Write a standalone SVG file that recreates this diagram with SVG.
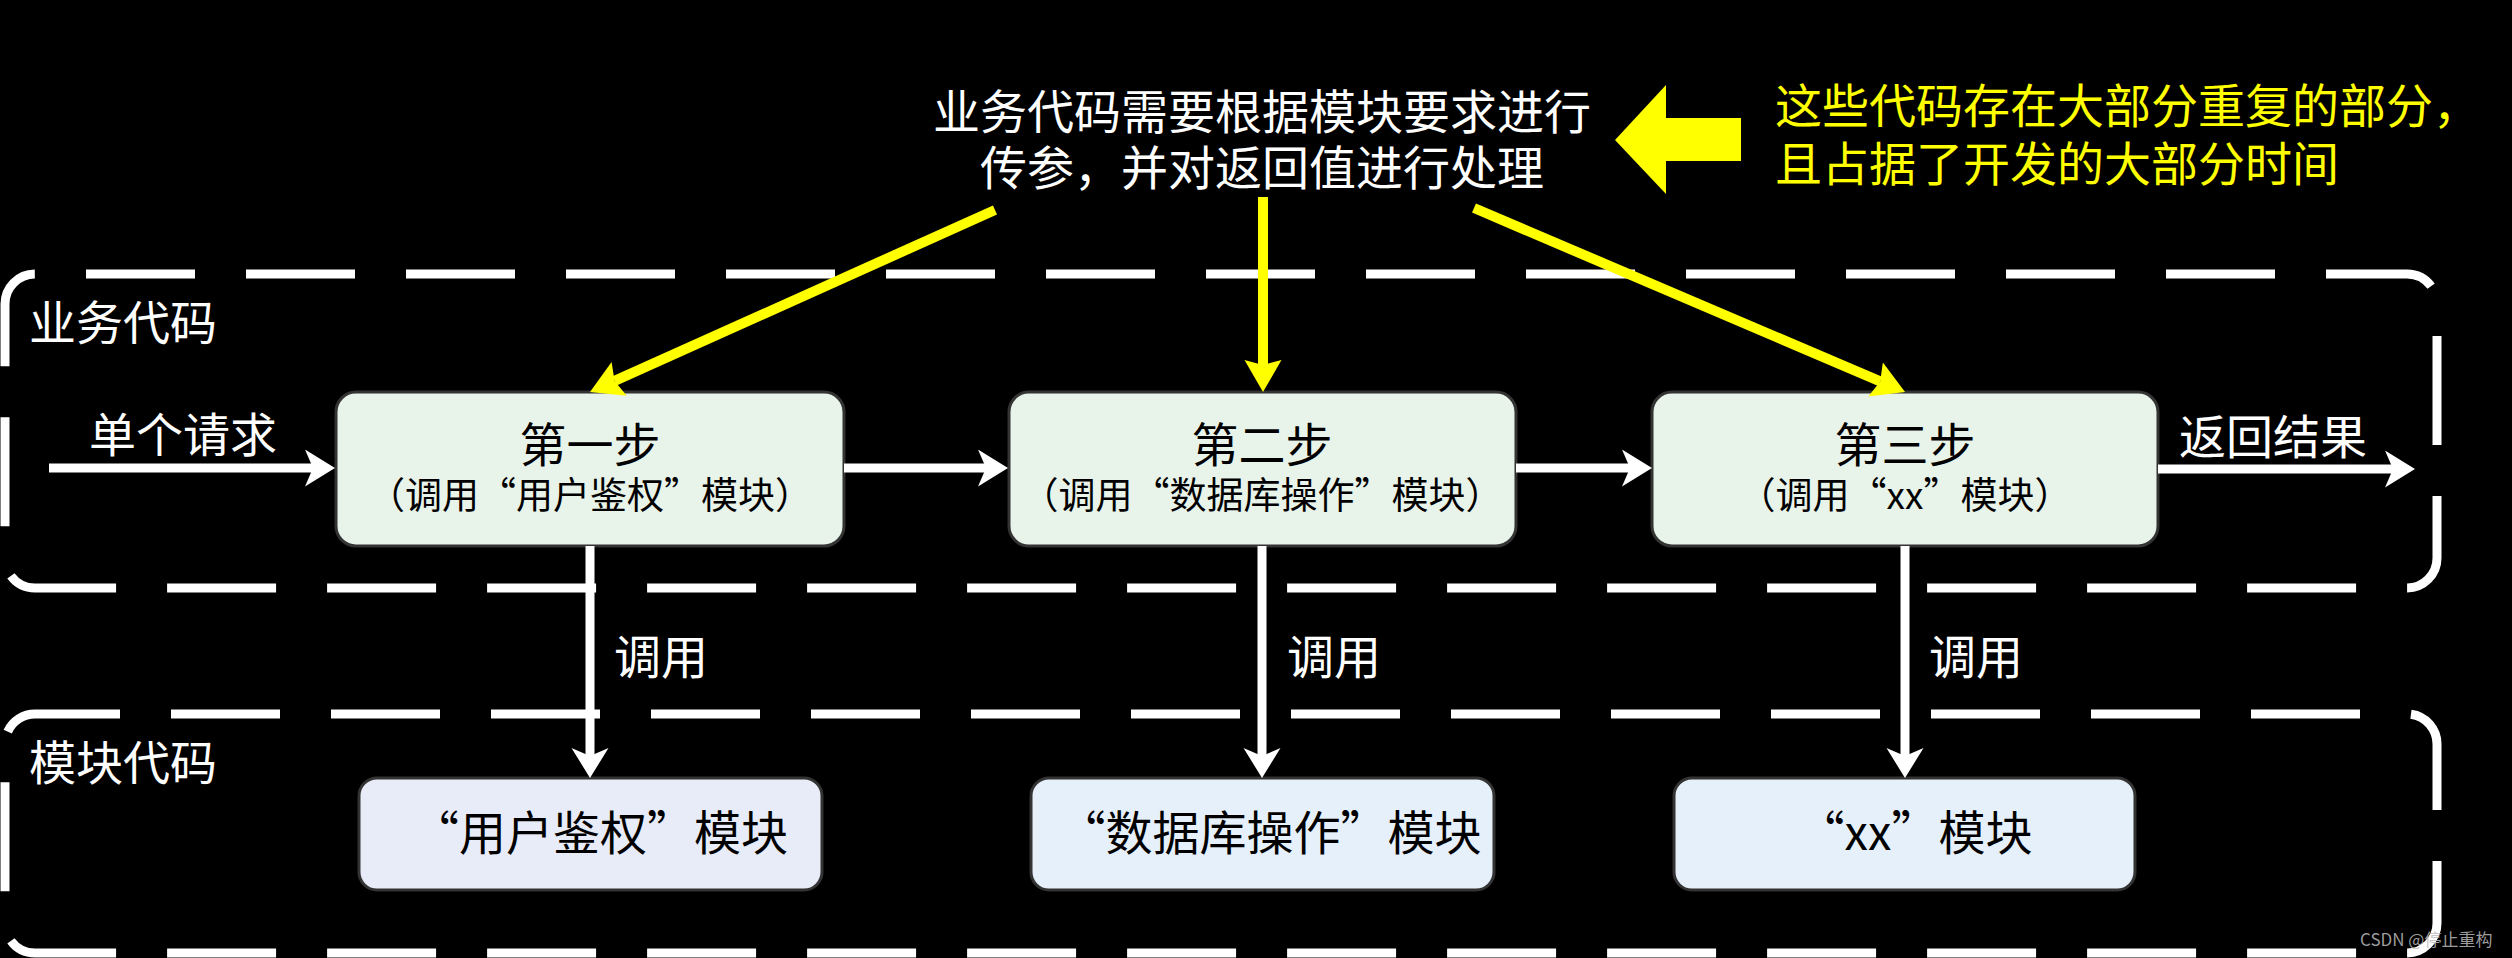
<svg xmlns="http://www.w3.org/2000/svg" width="2512" height="958" viewBox="0 0 2512 958">
<defs>
<style>
text{font-family:"Noto Sans CJK SC","Noto Sans",sans-serif;}
.w{fill:#ffffff;}
.y{fill:#ffff00;}
.k{fill:#000000;}
.f47{font-size:47px;}
.f37{font-size:37px;}
.mid{text-anchor:middle;}
.container{fill:none;stroke:#ffffff;stroke-width:9;stroke-dasharray:109 51;}
.step{fill:#e8f3ea;stroke:#333333;stroke-width:3;}
.mod1{fill:#e8ecf8;stroke:#333333;stroke-width:3;}
.mod{fill:#e6f0fa;stroke:#333333;stroke-width:3;}
.wl{stroke:#ffffff;stroke-width:9;fill:none;marker-end:url(#wa);}
.yl{stroke:#ffff00;stroke-width:10;fill:none;marker-end:url(#ya);}
</style>
<marker id="wa" markerUnits="userSpaceOnUse" markerWidth="32" markerHeight="38" refX="8" refY="18.5" orient="auto" viewBox="0 0 32 38">
<path d="M0,0 L30,18.5 L0,37 L8,18.5 z" fill="#ffffff"/>
</marker>
<marker id="ya" markerUnits="userSpaceOnUse" markerWidth="34" markerHeight="38" refX="5" refY="18.5" orient="auto" viewBox="0 0 34 38">
<path d="M0,0 L32,18.5 L0,37 L5,18.5 z" fill="#ffff00"/>
</marker>
</defs>
<rect x="0" y="0" width="2512" height="958" fill="#000000"/>

<g id="container-business">
<rect class="container" x="5" y="274" width="2432" height="314" rx="30" ry="30" stroke-dashoffset="109"/>
<text class="w f47" x="29" y="340">业务代码</text>
</g>
<g id="container-module">
<rect class="container" x="5" y="714" width="2432" height="239" rx="30" ry="30" stroke-dashoffset="24"/>
<text class="w f47" x="29" y="780">模块代码</text>
</g>

<g id="note-top">
<text class="w f47 mid" x="1262" y="129">业务代码需要根据模块要求进行<tspan x="1262" y="185">传参，并对返回值进行处理</tspan></text>
</g>
<g id="note-yellow">
<polygon points="1615,140 1666,85 1666,118 1741,118 1741,161 1666,161 1666,194" fill="#ffff00"/>
<text class="y f47" x="1775" y="123">这些代码存在大部分重复的部分，<tspan x="1775" y="181">且占据了开发的大部分时间</tspan></text>
</g>

<g id="step1">
<rect class="step" x="336" y="392" width="508" height="154" rx="20" ry="20"/>
<text class="k f47 mid" x="590" y="462">第一步<tspan class="f37" x="590" y="509">（调用“用户鉴权”模块）</tspan></text>
</g>
<g id="step2">
<rect class="step" x="1009" y="392" width="507" height="154" rx="20" ry="20"/>
<text class="k f47 mid" x="1262" y="462">第二步<tspan class="f37" x="1262" y="509">（调用“数据库操作”模块）</tspan></text>
</g>
<g id="step3">
<rect class="step" x="1652" y="392" width="506" height="154" rx="20" ry="20"/>
<text class="k f47 mid" x="1905" y="462">第三步<tspan class="f37" x="1905" y="509">（调用“xx”模块）</tspan></text>
</g>

<g id="module1">
<rect class="mod1" x="359" y="778" width="463" height="112" rx="18" ry="18"/>
<text class="k f47 mid" x="600" y="850">“用户鉴权”模块</text>
</g>
<g id="module2">
<rect class="mod" x="1031" y="778" width="463" height="112" rx="18" ry="18"/>
<text class="k f47 mid" x="1270" y="850">“数据库操作”模块</text>
</g>
<g id="module3">
<rect class="mod" x="1674" y="778" width="461" height="112" rx="18" ry="18"/>
<text class="k f47 mid" x="1915" y="850">“xx”模块</text>
</g>

<g id="connectors">
<line class="wl" x1="49" y1="468" x2="313" y2="468"/>
<line class="wl" x1="844" y1="468" x2="986" y2="468"/>
<line class="wl" x1="1516" y1="468" x2="1630" y2="468"/>
<line class="wl" x1="2158" y1="469" x2="2393" y2="469"/>
<line class="wl" x1="590" y1="546" x2="590" y2="756"/>
<line class="wl" x1="1262" y1="546" x2="1262" y2="756"/>
<line class="wl" x1="1905" y1="546" x2="1905" y2="756"/>
<line class="yl" x1="995" y1="210" x2="614.6" y2="380.9"/>
<line class="yl" x1="1263" y1="197" x2="1263" y2="365"/>
<line class="yl" x1="1474" y1="208" x2="1880.2" y2="381.4"/>
<text class="w f47" x="89" y="452">单个请求</text>
<text class="w f47" x="2179" y="454">返回结果</text>
<text class="w f47" x="614" y="674">调用</text>
<text class="w f47" x="1287" y="674">调用</text>
<text class="w f47" x="1929" y="674">调用</text>
</g>

<text x="2360" y="946" font-size="17" fill="#bbbbbb" fill-opacity="0.85">CSDN @停止重构</text>
</svg>
